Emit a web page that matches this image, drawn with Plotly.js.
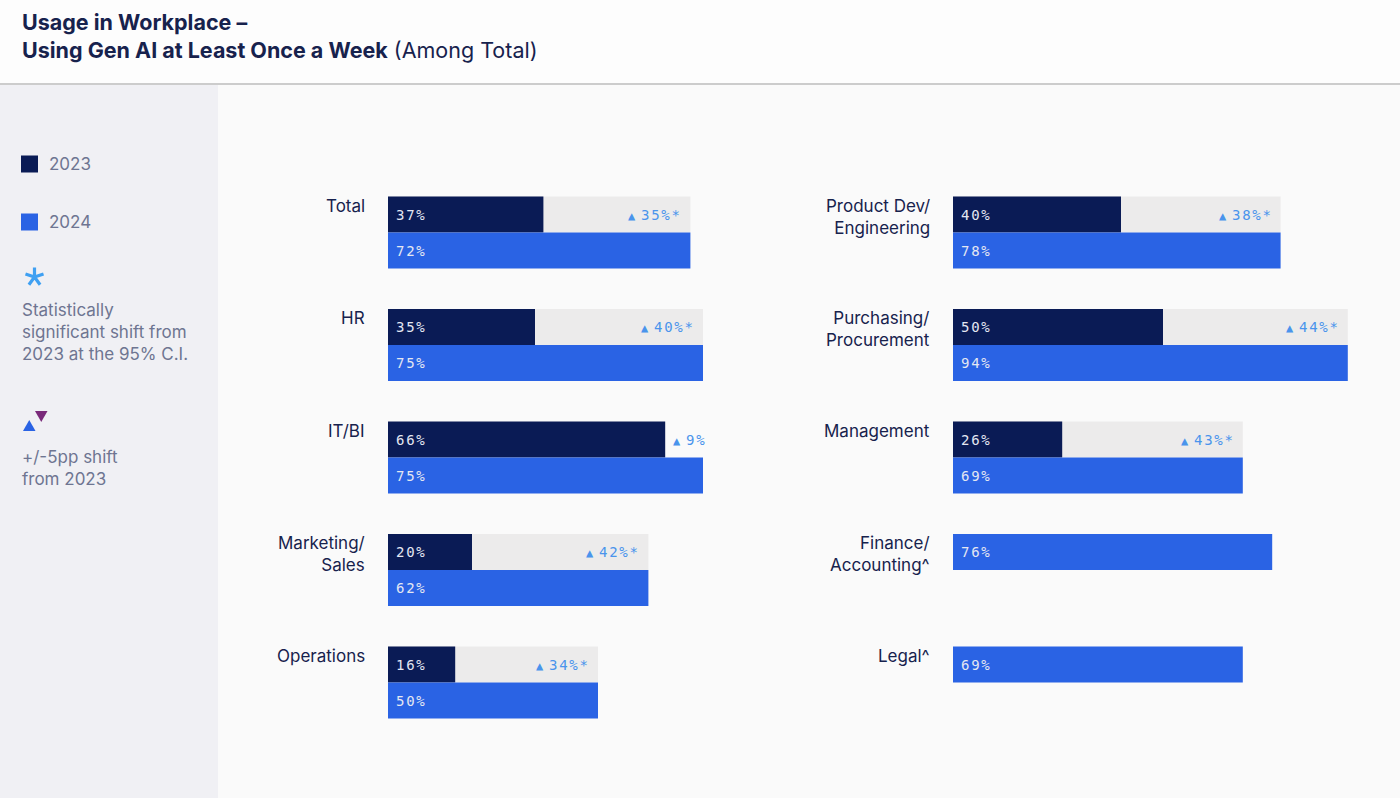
<!DOCTYPE html>
<html><head><meta charset="utf-8">
<script src="https://cdn.plot.ly/plotly-3.0.1.min.js"></script>
<style>html,body{margin:0;padding:0;background:#fafafa;overflow:hidden}#chart{width:1400px;height:798px}
.annotation-text[style*="Mono"]{letter-spacing:1.7px}</style>
</head><body><div id="chart"></div>
<script>
// ---- data ----
const leftCategories = ['Total', 'HR', 'IT/BI', 'Marketing/<br>Sales', 'Operations'];
const left2023 = [37, 35, 66, 20, 16];
const left2024 = [72, 75, 75, 62, 50];
const leftSignificant = [true, true, false, true, true];
const leftShaded = [true, true, false, true, true];

const rightCategories = ['Product Dev/<br>Engineering', 'Purchasing/<br>Procurement', 'Management', 'Finance/<br>Accounting^', 'Legal^'];
const right2023 = [40, 50, 26, null, null];
const right2024 = [78, 94, 69, 76, 69];
const rightSignificant = [true, true, true, false, false];
const rightShaded = [true, true, true, false, false];

const legendYears = ['2023', '2024'];
const sigNote = 'Statistically<br>significant shift from<br>2023 at the 95% C.I.';
const shiftNote = '+/-5pp shift<br>from 2023';
const titleLine1 = 'Usage in Workplace –';
const titleLine2 = 'Using Gen AI at Least Once a Week';
const titleSuffix = '(Among Total)';

// ---- styling ----
const W = 1400, H = 798;
const C2023 = '#0a1b55', C2024 = '#2a63e4', CGAP = '#ecebeb';
const NAVY = '#17224d', MUTED = '#6e7591', DELTA = '#4a94ec';
const BAR = 0.32;
const SANS = 'Inter, "Open Sans", sans-serif';
const MONO = '"DejaVu Sans Mono", "Liberation Mono", monospace';
const px = x => x / W;
const py = y => 1 - y / H;

const traces = [];
const annotations = [];

function buildPanel(cats, v23, v24, sig, shaded, xa) {
  const idx = cats.map((_, i) => i);
  traces.push({
    type: 'bar', orientation: 'h', xaxis: xa, yaxis: 'y', width: BAR,
    x: v24.map((v, i) => shaded[i] ? v : null), y: idx,
    marker: {color: CGAP}, hoverinfo: 'skip', showlegend: false
  });
  traces.push({
    type: 'bar', orientation: 'h', xaxis: xa, yaxis: 'y', width: BAR,
    x: v23, y: idx, marker: {color: C2023}, hoverinfo: 'skip', showlegend: false
  });
  const y24 = idx.map(i => v23[i] == null ? i : i + BAR);
  traces.push({
    type: 'bar', orientation: 'h', xaxis: xa, yaxis: 'y', width: BAR,
    x: v24, y: y24, marker: {color: C2024}, hoverinfo: 'skip', showlegend: false
  });
  const xref = xa;
  idx.forEach(i => {
    annotations.push({xref, yref: 'y', x: 0, y: i - BAR / 2, xanchor: 'right', yanchor: 'top',
      xshift: -21, yshift: 3, align: 'right', showarrow: false, text: cats[i],
      font: {family: SANS, size: 17, color: NAVY}});
    if (v23[i] != null) {
      annotations.push({xref, yref: 'y', x: 0, y: i, xanchor: 'left', yanchor: 'middle', xshift: 6,
        showarrow: false, text: v23[i] + '%', font: {family: MONO, size: 14, color: '#e4e7f2'}});
      const d = v24[i] - v23[i];
      const tri = (d >= 0 ? '<span style="font-size:12px">▲</span>' : '<span style="font-size:12px;color:#7a2a7a">▼</span>')
        + '<span style="font-size:4px"> </span>';
      const txt = tri + Math.abs(d) + '%' + (sig[i] ? '*' : '');
      if (shaded[i]) {
        annotations.push({xref, yref: 'y', x: v24[i], y: i, xanchor: 'right', yanchor: 'middle', xshift: -6,
          showarrow: false, text: txt, font: {family: MONO, size: 14, color: DELTA}});
      } else {
        annotations.push({xref, yref: 'y', x: v23[i], y: i, xanchor: 'left', yanchor: 'middle', xshift: 6,
          showarrow: false, text: txt, font: {family: MONO, size: 14, color: DELTA}});
      }
    }
    annotations.push({xref, yref: 'y', x: 0, y: y24[i], xanchor: 'left', yanchor: 'middle', xshift: 6,
      showarrow: false, text: v24[i] + '%', font: {family: MONO, size: 14, color: '#e4e7f2'}});
  });
}

buildPanel(leftCategories, left2023, left2024, leftSignificant, leftShaded, 'x');
buildPanel(rightCategories, right2023, right2024, rightSignificant, rightShaded, 'x2');

// ---- title & legend ----
annotations.push({xref: 'paper', yref: 'paper', x: px(20), y: py(22), xanchor: 'left', yanchor: 'middle',
  showarrow: false, text: '<b>' + titleLine1 + '</b>', font: {family: SANS, size: 21.5, color: NAVY}});
annotations.push({xref: 'paper', yref: 'paper', x: px(20), y: py(50), xanchor: 'left', yanchor: 'middle',
  showarrow: false, text: '<b>' + titleLine2 + '</b> ' + titleSuffix, font: {family: SANS, size: 21.5, color: NAVY}});

const legendColors = [C2023, C2024];
const shapes = [
  {type: 'rect', xref: 'paper', yref: 'paper', x0: 0, x1: 1, y0: py(84), y1: 1, fillcolor: '#fdfdfd', line: {width: 0}, layer: 'below'},
  {type: 'rect', xref: 'paper', yref: 'paper', x0: 0, x1: px(218), y0: 0, y1: py(85), fillcolor: '#f0f0f4', line: {width: 0}, layer: 'below'},
  {type: 'line', xref: 'paper', yref: 'paper', x0: 0, x1: 1, y0: py(84), y1: py(84), line: {color: '#cccccc', width: 2}}
];
legendYears.forEach((yr, k) => {
  const cy = 164 + k * 58;
  shapes.push({type: 'rect', xref: 'paper', yref: 'paper', x0: px(21), x1: px(38), y0: py(cy + 8.5), y1: py(cy - 8.5),
    fillcolor: legendColors[k], line: {width: 0}});
  annotations.push({xref: 'paper', yref: 'paper', x: px(47), y: py(cy), xanchor: 'left', yanchor: 'middle',
    showarrow: false, text: yr, font: {family: SANS, size: 17, color: MUTED}});
});
// asterisk symbol (5 arms)
(function () {
  const cx = 34.5, cy = 277, r = 9.5;
  let d = '';
  for (let k = 0; k < 5; k++) {
    const a = -Math.PI / 2 + k * 2 * Math.PI / 5;
    d += `M${px(cx)},${py(cy)} L${px(cx + r * Math.cos(a))},${py(cy + r * Math.sin(a))} `;
  }
  shapes.push({type: 'path', xref: 'paper', yref: 'paper', path: d, line: {color: '#3fa0f2', width: 3.2}});
})();
// shift triangles
shapes.push({type: 'path', xref: 'paper', yref: 'paper',
  path: `M${px(23)},${py(431)} L${px(35.5)},${py(431)} L${px(29.25)},${py(420)} Z`, fillcolor: '#2a63e4', line: {width: 0}});
shapes.push({type: 'path', xref: 'paper', yref: 'paper',
  path: `M${px(35)},${py(411)} L${px(47.5)},${py(411)} L${px(41.25)},${py(422)} Z`, fillcolor: '#7a2a7a', line: {width: 0}});

annotations.push({xref: 'paper', yref: 'paper', x: px(20), y: py(298), xanchor: 'left', yanchor: 'top', align: 'left',
  showarrow: false, text: sigNote, font: {family: SANS, size: 17, color: MUTED}});
annotations.push({xref: 'paper', yref: 'paper', x: px(20), y: py(445), xanchor: 'left', yanchor: 'top', align: 'left',
  showarrow: false, text: shiftNote, font: {family: SANS, size: 17, color: MUTED}});

// ---- axes ----
const UNIT = 112.5, TOP = 100, BOTTOM = 790, ROW0 = 214.5;
const axisCommon = {range: [0, 100], showgrid: false, zeroline: false, showticklabels: false, ticks: '', showline: false, fixedrange: true};
const layout = {
  width: W, height: H, margin: {l: 0, r: 0, t: 0, b: 0},
  paper_bgcolor: '#fafafa', plot_bgcolor: 'rgba(0,0,0,0)',
  barmode: 'overlay', showlegend: false,
  xaxis: Object.assign({domain: [px(388), px(808)], anchor: 'y'}, axisCommon),
  xaxis2: Object.assign({domain: [px(953), px(1373)], anchor: 'y'}, axisCommon),
  yaxis: {domain: [py(BOTTOM), py(TOP)], range: [(BOTTOM - ROW0) / UNIT, (TOP - ROW0) / UNIT],
    showgrid: false, zeroline: false, showticklabels: false, ticks: '', showline: false, fixedrange: true},
  shapes, annotations
};
Plotly.newPlot('chart', traces, layout, {staticPlot: true, displayModeBar: false});
</script></body></html>
